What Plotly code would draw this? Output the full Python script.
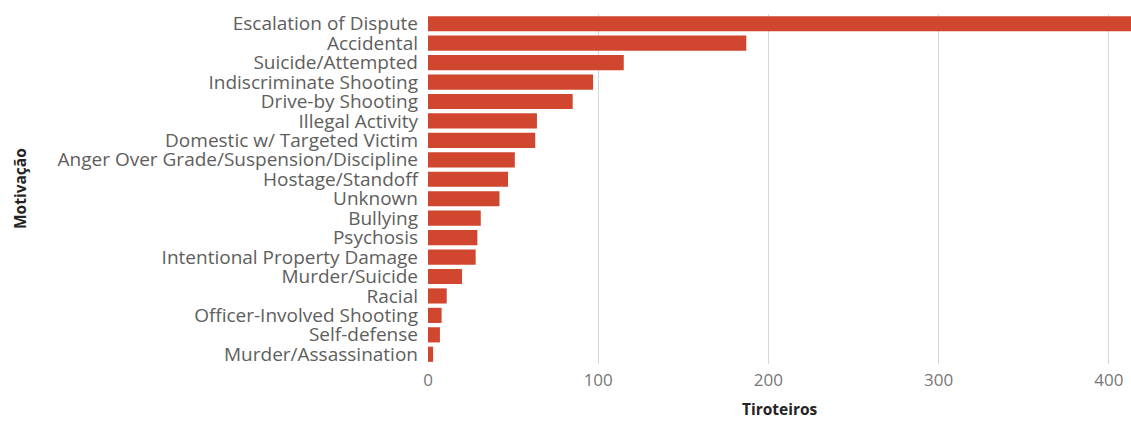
import plotly.graph_objects as go

categories = [
    "Escalation of Dispute", "Accidental", "Suicide/Attempted", "Indiscriminate Shooting",
    "Drive-by Shooting", "Illegal Activity", "Domestic w/ Targeted Victim",
    "Anger Over Grade/Suspension/Discipline", "Hostage/Standoff", "Unknown", "Bullying",
    "Psychosis", "Intentional Property Damage", "Murder/Suicide", "Racial",
    "Officer-Involved Shooting", "Self-defense", "Murder/Assassination",
]
values = [413, 187, 115, 97, 85, 64, 63, 51, 47, 42, 31, 29, 28, 20, 11, 8, 7, 3]
x_ticks = [0, 100, 200, 300, 400]

FONT = "Open Sans"
GRAY = "#605E5C"
DARK = "#252423"

fig = go.Figure(go.Bar(
    x=values, y=categories, orientation="h",
    marker=dict(color="#D0462F", line=dict(width=0)),
))

fig.update_layout(
    width=1131, height=421,
    margin=dict(l=428, r=0, t=14, b=57),
    plot_bgcolor="white", paper_bgcolor="white",
    bargap=0.22,
    showlegend=False,
    font=dict(family=FONT, color=GRAY),
)
fig.update_xaxes(
    range=[0, 413], tickmode="array", tickvals=x_ticks, showgrid=True,
    gridcolor="#D6D6D6", gridwidth=1, zeroline=False, showline=False,
    tickfont=dict(size=17, color="#777777"), ticklabelstandoff=4,
)
fig.update_yaxes(
    categoryorder="array", categoryarray=categories, autorange="reversed",
    tickmode="array", tickvals=categories, ticktext=categories,
    showgrid=False, zeroline=False, showline=False,
    tickfont=dict(size=19, color=GRAY), ticklabelstandoff=9,
)
fig.add_annotation(text="<b>Tiroteiros</b>", xref="paper", yref="paper", x=0.5, y=0,
                   yshift=-45, xanchor="center", yanchor="middle", showarrow=False,
                   font=dict(family=FONT, size=15.5, color=DARK))
fig.add_annotation(text="<b>Motivação</b>", xref="paper", yref="paper", x=0, y=0.5,
                   xshift=-408, textangle=-90, xanchor="center", yanchor="middle",
                   showarrow=False, font=dict(family=FONT, size=15.5, color=DARK))

fig.write_html("out.html")
